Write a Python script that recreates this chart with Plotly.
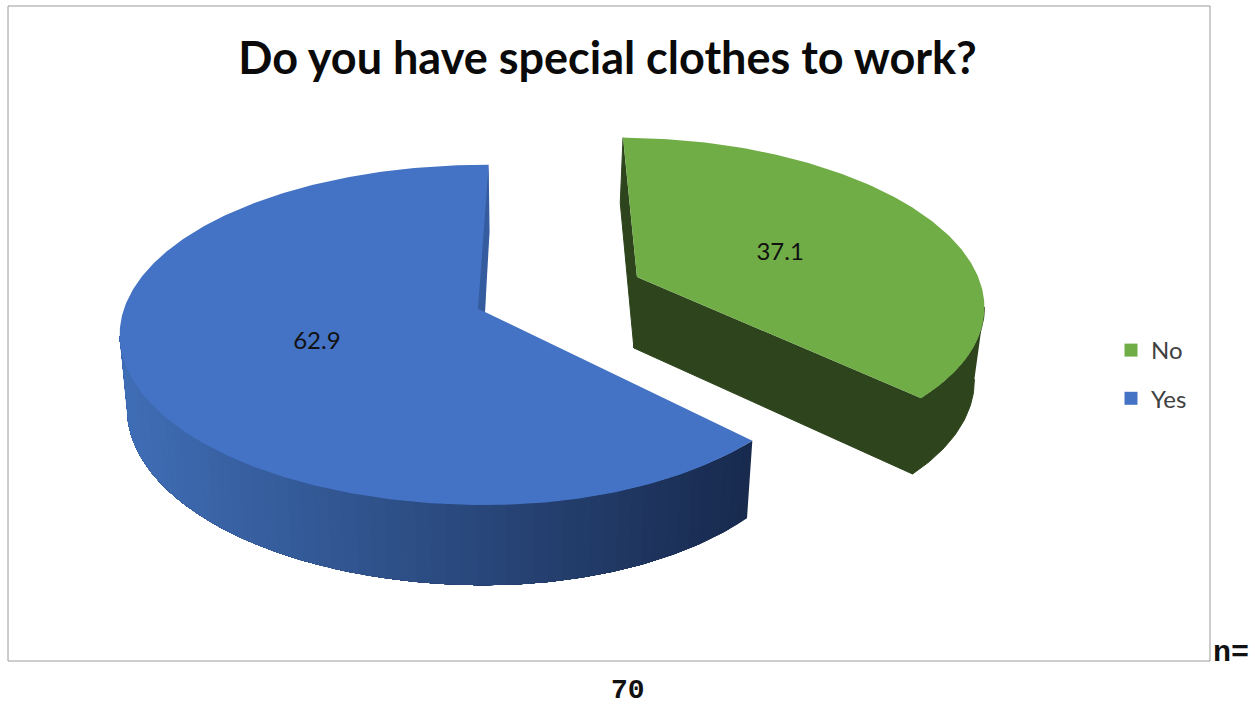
import numpy as np
import plotly.graph_objects as go

categories = ["No", "Yes"]
values = [37.1, 62.9]
top_colors = ["#70AD47", "#4472C4"]
title_text = "Do you have special clothes to work?"
note_a = "n="
note_b = "70"

W, H = 1255, 707
CX, CY = 485.0, 312.0
RX, RY, K = 362.0, 167.0, 0.135
START = 0.7
EXPLODE = [(0.432, 0.2156), (0.0, 0.0)]
RIGHT_SCALE = [0.97, 0.934]
LABEL_T = 0.47
LABEL_NUDGE = [(2, 5), (-7, 0)]
GREEN_SIDE = "#2D441C"
BLUE_L, BLUE_R = np.array([64, 110, 182]), np.array([24, 42, 78])


def project(X, Y):
    w = 1 + K * Y
    return CX + RX * X / w, CY - RY * Y / w


def drop(sx, sy):
    return CX + 0.98 * (np.asarray(sx) - CX), 348 + 1.04 * (np.asarray(sy) - 277)


def on_disc(t_deg, radius, off, rs):
    t = np.radians(t_deg)
    u = radius * np.sin(t)
    u = np.where(u > 0, u * rs, u)
    return project(off[0] + u, off[1] + radius * np.cos(t))


def rim(a0, a1, off, rs, n=160):
    return on_disc(np.linspace(a0, a1, n), 1.0, off, rs)


def poly(x, y, color, lw=0):
    return go.Scatter(x=list(x), y=list(y), mode="lines", fill="toself", fillcolor=color,
                      line=dict(color=color, width=lw), hoverinfo="skip", showlegend=False)


fig = go.Figure()
spans = []
a = START
for v in values:
    spans.append((a, a + 360 * v / sum(values)))
    a = spans[-1][1]

# walls of the "No" slice
g0, g1 = spans[0]
off = EXPLODE[0]
ax, ay = project(*off)
tx, ty = rim(g0, g1, off, RIGHT_SCALE[0])
bx, by = drop(tx, ty)
dax, day = drop(ax, ay)
k = int(np.argmax(tx))
fig.add_trace(poly(np.r_[tx[k:], bx[k:][::-1]], np.r_[ty[k:], by[k:][::-1]], GREEN_SIDE, 1))
fig.add_trace(poly([tx[0], bx[0], dax, ax], [ty[0], by[0], day, ay], GREEN_SIDE, 1))
fig.add_trace(poly([tx[-1], bx[-1], dax, ax], [ty[-1], by[-1], day, ay], GREEN_SIDE, 1))
fig.add_trace(poly(np.r_[ax, tx], np.r_[ay, ty], top_colors[0]))

# walls of the "Yes" slice, shaded along the rim; each band runs on under the next one
b0, b1 = spans[1]
off = EXPLODE[1]
ax, ay = project(*off)
tx, ty = rim(b0, b1, off, RIGHT_SCALE[1], 320)
bx, by = drop(tx, ty)
k = int(np.argmin(tx))
step = 3
for i in range(0, k, step):
    f = np.clip((tx[i:i + step + 1].mean() - tx.min()) / (tx[0] - tx.min()), 0, 1)
    c = BLUE_R + (BLUE_L - BLUE_R) * (1 - f)
    col = "rgb(%d,%d,%d)" % tuple(c)
    fig.add_trace(poly(np.r_[tx[i:k + 1], bx[i:k + 1][::-1]], np.r_[ty[i:k + 1], by[i:k + 1][::-1]], col))
fig.add_trace(poly(np.r_[ax, tx], np.r_[ay, ty], top_colors[1]))
# thin inner wall along the slice start
sx, sy = tx[-1], ty[-1]
dsx, dsy = drop(sx, sy)
fig.add_trace(poly([sx, dsx + 1, ax, ax - 7, sx], [sy, dsy, ay, ay - 3, sy], "#355C9E"))

# value labels
lx, ly, lt = [], [], []
for (s0, s1), off, v, rs, nudge in zip(spans, EXPLODE, values, RIGHT_SCALE, LABEL_NUDGE):
    px, py = on_disc((s0 + s1) / 2, LABEL_T, off, rs)
    lx.append(float(px) + nudge[0]); ly.append(float(py) + nudge[1]); lt.append(f"{v:.1f}")
fig.add_trace(go.Scatter(x=lx, y=ly, text=lt, mode="text", textposition="middle center",
                         textfont=dict(family="Lato", size=24, color="#111111"),
                         hoverinfo="skip", showlegend=False))

# legend entries
for c, col in zip(categories, top_colors):
    fig.add_trace(go.Scatter(x=[None], y=[None], mode="markers", name=c, legendgroup=c,
                             marker=dict(symbol="square", size=13, color=col)))

fig.add_shape(type="rect", x0=8, y0=6, x1=1210, y1=661, xref="x", yref="y",
              line=dict(color="#9A9A9A", width=1), layer="below")
fig.add_annotation(x=1231, y=653, xref="x", yref="y", text=f"<b>{note_a}</b>", showarrow=False,
                   font=dict(family="Liberation Mono", size=30, color="#111111"))
fig.add_annotation(x=628, y=690, xref="x", yref="y", text=f"<b>{note_b}</b>", showarrow=False,
                   font=dict(family="Liberation Mono", size=28, color="#111111"))

fig.update_layout(
    width=W, height=H, autosize=False,
    margin=dict(l=0, r=0, t=0, b=0),
    paper_bgcolor="white", plot_bgcolor="white",
    title=dict(text=f"<b>{title_text}</b>", x=607.5 / W, xanchor="center", y=1 - 58 / H, yanchor="middle",
               font=dict(family="Lato", size=45, color="#0A0A0A")),
    xaxis=dict(range=[0, W], visible=False, fixedrange=True),
    yaxis=dict(range=[H, 0], visible=False, fixedrange=True),
    legend=dict(x=1111 / W, y=1 - 328 / H, xanchor="left", yanchor="top", tracegroupgap=14,
                font=dict(family="Lato", size=24, color="#404040"), bgcolor="rgba(0,0,0,0)"),
)
fig.write_html("out.html", config={"displayModeBar": False},
               post_script="document.body.style.margin='0';")
